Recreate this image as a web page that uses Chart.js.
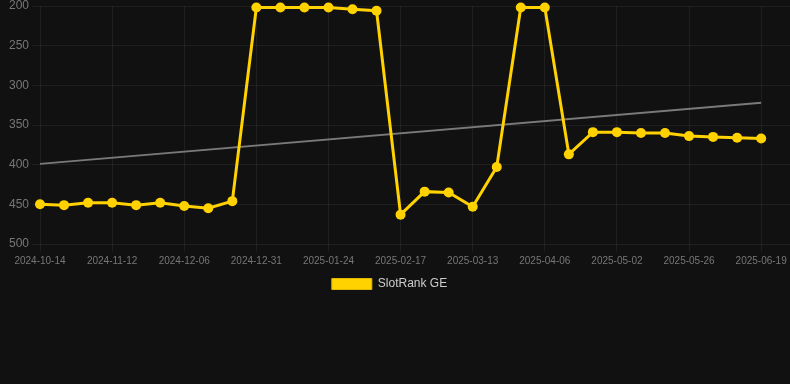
<!DOCTYPE html>
<html>
<head>
<meta charset="utf-8">
<script src="https://cdn.jsdelivr.net/npm/chart.js@4"></script>
<style>
  html, body { margin: 0; padding: 0; background: #111111; }
  #wrap { position: relative; width: 790px; height: 302px; }
</style>
</head>
<body>
<div id="wrap"><canvas id="c"></canvas></div>
<script>
const categories = [
  '2024-10-14','2024-10-24','2024-11-03','2024-11-12','2024-11-20','2024-11-28',
  '2024-12-06','2024-12-14','2024-12-22','2024-12-31','2025-01-08','2025-01-16',
  '2025-01-24','2025-02-01','2025-02-09','2025-02-17','2025-02-25','2025-03-05',
  '2025-03-13','2025-03-21','2025-03-29','2025-04-06','2025-04-14','2025-04-22',
  '2025-05-02','2025-05-10','2025-05-18','2025-05-26','2025-06-03','2025-06-11',
  '2025-06-19'
];
const rankValues = [
  450, 451, 448, 448, 451, 448, 452, 455, 446,
  202, 202, 202, 202, 204, 206,
  463, 434, 435, 453, 403, 202, 202, 387,
  359, 359, 360, 360, 364, 365, 366, 367
];
const trendStart = 399;
const trendEnd = 322;
const tickIndices = [0, 3, 6, 9, 12, 15, 18, 21, 24, 27, 30];
const yTicks = [200, 250, 300, 350, 400, 450, 500];

const rankPoints = rankValues.map((v, i) => ({ x: i, y: v }));
const trendPoints = [{ x: 0, y: trendStart }, { x: categories.length - 1, y: trendEnd }];

const gridColor = 'rgba(255,255,255,0.06)';

const legendShift = {
  id: 'legendShift',
  afterLayout(chart) {
    if (chart.legend) {
      chart.legend.left -= 5.5;
      chart.legend.right -= 5.5;
      chart.legend.top -= 2;
      chart.legend.bottom -= 2;
    }
  }
};

new Chart(document.getElementById('c'), {
  type: 'line',
  plugins: [legendShift],
  data: {
    datasets: [
      {
        label: 'SlotRank GE',
        data: rankPoints,
        borderColor: '#FFD200',
        backgroundColor: '#FFD200',
        borderWidth: 3,
        pointRadius: 5,
        pointHoverRadius: 5,
        pointBackgroundColor: '#FFD200',
        pointBorderColor: '#FFD200',
        pointBorderWidth: 0,
        tension: 0,
        clip: false,
        order: 1
      },
      {
        label: 'trend',
        data: trendPoints,
        borderColor: '#7a7a7a',
        backgroundColor: '#7a7a7a',
        borderWidth: 2,
        pointRadius: 0,
        tension: 0,
        clip: false,
        order: 2
      }
    ]
  },
  options: {
    responsive: true,
    maintainAspectRatio: false,
    animation: false,
    layout: { padding: 0, autoPadding: false },
    plugins: {
      legend: {
        position: 'bottom',
        labels: {
          color: '#cccccc',
          font: { family: 'Liberation Sans, Arial, sans-serif', size: 12 },
          boxWidth: 40,
          boxHeight: 11,
          padding: 10,
          generateLabels: chart => {
            const items = Chart.defaults.plugins.legend.labels.generateLabels(chart);
            return items
              .filter(it => it.text !== 'trend')
              .map(it => Object.assign(it, { lineWidth: 1, strokeStyle: '#E0B800' }));
          }
        }
      },
      tooltip: { enabled: false }
    },
    scales: {
      x: {
        type: 'linear',
        min: 0,
        max: 31.2,
        afterBuildTicks: s => { s.ticks = tickIndices.map(v => ({ value: v })); },
        ticks: {
          autoSkip: false,
          maxRotation: 0,
          color: '#777777',
          font: { family: 'Liberation Sans, Arial, sans-serif', size: 10 },
          callback: v => categories[v]
        },
        grid: { color: gridColor, tickLength: 8 },
        border: { display: false }
      },
      y: {
        reverse: true,
        min: 200,
        max: 500,
        afterBuildTicks: s => { s.ticks = yTicks.map(v => ({ value: v })); },
        afterFit: s => { s.width = 40; },
        ticks: {
          color: '#777777',
          font: { family: 'Liberation Sans, Arial, sans-serif', size: 12, lineHeight: 0.5 },
          padding: 3
        },
        grid: { color: gridColor, tickLength: 8 },
        border: { display: false }
      }
    }
  }
});
</script>
</body>
</html>
